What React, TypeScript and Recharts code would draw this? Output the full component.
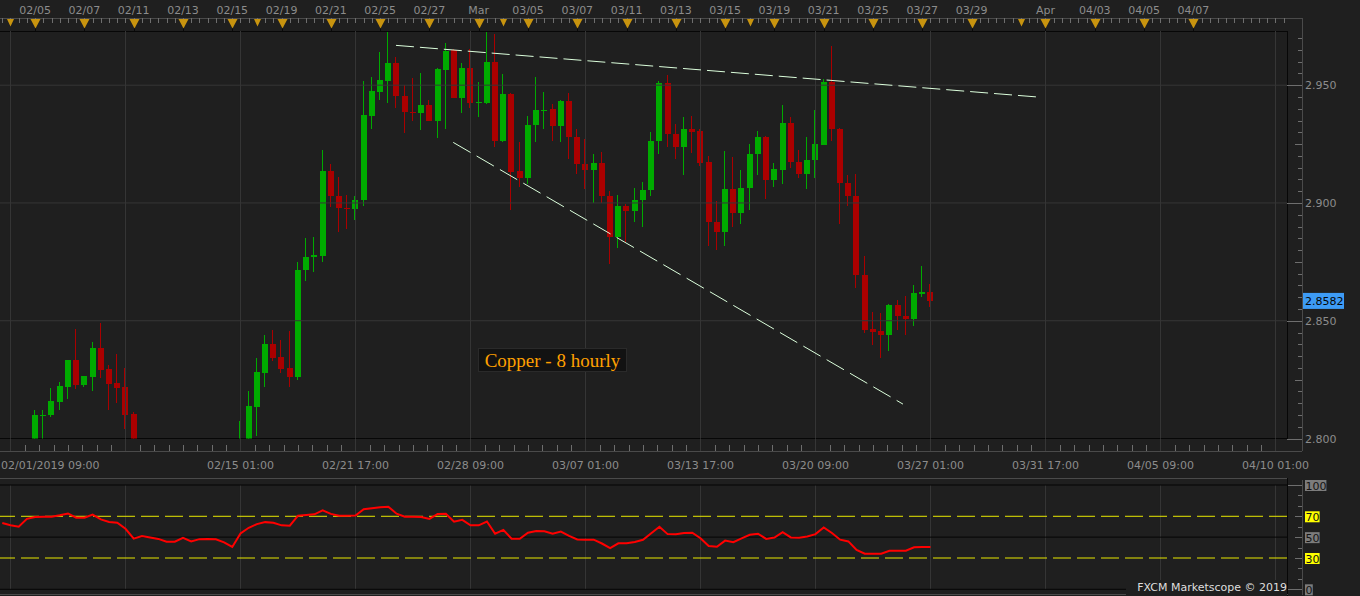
import React from 'react';
import { ComposedChart, LineChart, Bar, Line, XAxis, YAxis, ReferenceLine } from 'recharts';

// 8-hour candles. slot 0 = 02/01/2019 09:00, first array entry is slot -1.
// null = candle sits below the visible price range.
const FIRST_SLOT = -1;

const opens = [
  null, null, null, null,
  2.797, 2.8095, 2.8099, 2.8155, 2.8219, 2.8332, 2.8227, 2.8261, 2.8383, 2.8294, 2.8234, 2.8217, 2.8103,
  null, null, null, null, null, null, null, null, null, null, null, null,
  2.792, 2.797, 2.8134, 2.8278, 2.84, 2.8344, 2.8298, 2.8261, 2.8714, 2.877,
  2.8774, 2.9137, 2.9031, 2.898, 2.8973, 2.9011, 2.9371, 2.9473, 2.9519, 2.9594,
  2.9455, 2.9386, 2.938, 2.9417, 2.935, 2.9566, 2.965, 2.9447, 2.9573, 2.9424,
  2.9426, 2.9599, 2.9261, 2.9463, 2.9134, 2.9104, 2.9329, 2.9391, 2.9397, 2.9325,
  2.9433, 2.928, 2.9167, 2.9142, 2.9171, 2.9031, 2.8854, 2.8989, 2.8964, 2.9011,
  2.9053, 2.9261, 2.951, 2.9294, 2.9236, 2.9315, 2.9306, 2.9175, 2.8921, 2.8875,
  2.9061, 2.8956, 2.9062, 2.9206, 2.9281, 2.9096, 2.9142, 2.934, 2.9175, 2.9125,
  2.9181, 2.9248, 2.9514, 2.9315, 2.9086, 2.9031, 2.8696, 2.8463, 2.8455, 2.8438,
  2.8565, 2.8522, 2.8507, 2.8613, 2.8624,
];

const highs = [
  null, null, null, null,
  2.812, 2.812, 2.8216, 2.8239, 2.8335, 2.8463, 2.8266, 2.8409, 2.8489, 2.8312, 2.8357, 2.8298, 2.8111,
  null, null, null, null, null, null, null, null, null, null, null, null,
  2.8073, 2.82, 2.834, 2.8438, 2.8459, 2.8417, 2.8455, 2.8751, 2.8853, 2.8857,
  2.9226, 2.9167, 2.9111, 2.9035, 2.9031, 2.9518, 2.9535, 2.9641, 2.9727, 2.962,
  2.9501, 2.9532, 2.9552, 2.9438, 2.9573, 2.9679, 2.9653, 2.9594, 2.9654, 2.9514,
  2.9727, 2.9717, 2.9548, 2.9466, 2.9257, 2.9371, 2.9535, 2.9472, 2.9421, 2.9436,
  2.9466, 2.9314, 2.9271, 2.9209, 2.9216, 2.9049, 2.9035, 2.8997, 2.9065, 2.909,
  2.9302, 2.9518, 2.9544, 2.9336, 2.9366, 2.937, 2.9315, 2.92, 2.901, 2.9222,
  2.9196, 2.9141, 2.9251, 2.9306, 2.9285, 2.9171, 2.9417, 2.9366, 2.9226, 2.9281,
  2.9395, 2.9527, 2.9667, 2.9318, 2.912, 2.9124, 2.8773, 2.8539, 2.8531, 2.8573,
  2.859, 2.8603, 2.865, 2.8734, 2.8658,
];

const lows = [
  null, null, null, null,
  2.795, 2.798, 2.8092, 2.8121, 2.8167, 2.8209, 2.8217, 2.8202, 2.8256, 2.8121, 2.8151, 2.8039, 2.794,
  null, null, null, null, null, null, null, null, null, null, null, null,
  2.789, 2.795, 2.8011, 2.8219, 2.8331, 2.8278, 2.8219, 2.8248, 2.8668, 2.8706,
  2.8748, 2.8981, 2.8875, 2.8888, 2.8926, 2.8986, 2.9316, 2.9435, 2.9426, 2.9405,
  2.9295, 2.9346, 2.9308, 2.9346, 2.9274, 2.9316, 2.9444, 2.938, 2.9405, 2.9367,
  2.9418, 2.9236, 2.9258, 2.8969, 2.9066, 2.9079, 2.9257, 2.9316, 2.9265, 2.9257,
  2.9186, 2.9125, 2.9058, 2.8998, 2.9, 2.8742, 2.8808, 2.8833, 2.8918, 2.8897,
  2.9028, 2.9206, 2.9236, 2.9186, 2.9117, 2.9214, 2.9155, 2.8816, 2.8799, 2.8816,
  2.8897, 2.8909, 2.8969, 2.9117, 2.9015, 2.9066, 2.9079, 2.9147, 2.9108, 2.9058,
  2.9108, 2.9245, 2.9265, 2.8909, 2.8986, 2.8638, 2.845, 2.8395, 2.834, 2.837,
  2.846, 2.8439, 2.8477, 2.86, 2.8558,
];

const closes = [
  null, null, null, null,
  2.8099, 2.8101, 2.8158, 2.8222, 2.8332, 2.8227, 2.8264, 2.8383, 2.8291, 2.8231, 2.8214, 2.81, 2.797,
  null, null, null, null, null, null, null, null, null, null, null, null,
  2.798, 2.8137, 2.8281, 2.84, 2.8342, 2.8295, 2.8261, 2.8717, 2.8772, 2.8777,
  2.9137, 2.9028, 2.8977, 2.8973, 2.9014, 2.9374, 2.9476, 2.9522, 2.9594, 2.9452,
  2.9384, 2.938, 2.9417, 2.935, 2.9569, 2.9645, 2.9447, 2.9573, 2.9426, 2.9428,
  2.9599, 2.9261, 2.9463, 2.9131, 2.9104, 2.9333, 2.9395, 2.9395, 2.9325, 2.9433,
  2.9278, 2.9164, 2.9142, 2.9171, 2.9028, 2.8854, 2.8989, 2.8964, 2.9014, 2.9056,
  2.9265, 2.951, 2.9291, 2.9236, 2.9315, 2.9303, 2.9171, 2.8918, 2.8875, 2.9061,
  2.8956, 2.9065, 2.9209, 2.9281, 2.9096, 2.9145, 2.934, 2.9172, 2.9125, 2.9183,
  2.9251, 2.9514, 2.9312, 2.9083, 2.9028, 2.8693, 2.846, 2.8452, 2.8438, 2.8565,
  2.8519, 2.8507, 2.8616, 2.8624, 2.8582,
];

const rsi = [
  63.5, 61.5, 60.0, 67.5, 69.4, 69.6, 69.6, 71.0, 72.7, 68.6,
  68.6, 71.6, 67.0, 64.6, 63.8, 58.0, 48.5, 51.0, 49.6, 48.3,
  45.6, 45.7, 49.3, 45.9, 48.1, 48.2, 48.0, 45.0, 40.6, 53.5,
  59.0, 62.5, 64.4, 63.8, 61.3, 61.0, 70.6, 71.2, 71.9, 75.8,
  72.3, 70.6, 70.6, 70.7, 76.8, 77.8, 78.6, 79.2, 72.5, 69.6,
  69.5, 69.4, 67.5, 72.2, 72.5, 64.8, 66.6, 61.3, 61.3, 65.0,
  53.3, 57.0, 48.5, 48.5, 54.2, 55.9, 55.6, 53.2, 55.3, 51.2,
  47.8, 47.6, 47.6, 43.9, 39.4, 44.1, 44.1, 45.4, 47.5, 53.8,
  60.0, 52.9, 52.7, 54.0, 54.3, 49.0, 41.5, 40.8, 46.7, 45.2,
  48.9, 52.3, 53.3, 48.3, 49.6, 54.7, 49.7, 49.5, 50.7, 52.9,
  59.3, 54.0, 47.6, 45.9, 37.7, 34.1, 34.1, 34.1, 37.0, 37.0,
  37.0, 40.3, 40.6, 40.6,
];

const topLabelSlots = [3, 9, 15, 21, 27, 33, 39, 45, 51, 57, 63, 69, 75, 81, 87, 93, 99, 105, 111, 117, 126, 132, 138, 144];
const topLabels = ['02/05', '02/07', '02/11', '02/13', '02/15', '02/19', '02/21', '02/25', '02/27', 'Mar', '03/05', '03/07',
  '03/11', '03/13', '03/15', '03/19', '03/21', '03/25', '03/27', '03/29', 'Apr', '04/03', '04/05', '04/07'];
const weekMarkSlots = [0, 30, 60, 90, 123];

const bottomLabelSlots = [0, 28, 42, 56, 70, 84, 98, 112, 126, 140, 154];
const bottomLabels = ['02/01/2019 09:00', '02/15 01:00', '02/21 17:00', '02/28 09:00', '03/07 01:00', '03/13 17:00',
  '03/20 09:00', '03/27 01:00', '03/31 17:00', '04/05 09:00', '04/10 01:00'];
const gridSlots = [0, 14, 28, 42, 56, 70, 84, 98, 112, 126, 140, 154];

const priceLabels = [2.8, 2.85, 2.9, 2.95];
const rsiLabels = [0, 30, 50, 70, 100];
const rsiBands = [30, 70];
const rsiSolid = [0, 50, 100];

const upperTrend = [{ x: 46.93, y: 2.9669 }, { x: 124.96, y: 2.945 }];
const lowerTrend = [{ x: 53.9, y: 2.9257 }, { x: 108.65, y: 2.8146 }];

const X_DOMAIN: [number, number] = [-1.278, 155.4];
const P_DOMAIN: [number, number] = [2.8, 2.973];

const BG = '#1f1f1f';
const GRID = '#363636';
const TICK = '#6e6e6e';
const STRIP = '#4a4a4a';
const UP = '#00aa00';
const DOWN = '#aa0000';
const GOLD = '#c8940f';
const TREND = '#dcffdc';
const axisText: React.CSSProperties = { fontFamily: 'DejaVu Sans', fontSize: 11, fill: '#8c8c8c' };

const candles = opens
  .map((o, k) => ({ slot: k + FIRST_SLOT, o, h: highs[k], l: lows[k], c: closes[k] }))
  .filter((d) => d.o != null)
  .map((d) => ({ ...d, range: [d.l, d.h] }));
const rsiData = rsi.map((r, k) => ({ slot: k + FIRST_SLOT, r }));
const lastClose = closes[closes.length - 1] as number;

const topTicks = Array.from({ length: 157 }, (_, k) => k - 1);
const bottomTicks = Array.from({ length: 89 }, (_, k) => k * 1.75);
const priceTicks = [...Array.from({ length: 35 }, (_, k) => Math.round((2.8 + k * 0.005) * 1000) / 1000), lastClose];
const rsiTicks = Array.from({ length: 11 }, (_, k) => k * 10);

const Candle = (props: any) => {
  const { x, y, width, height, payload } = props;
  if (!payload || payload.o == null || !Number.isFinite(y) || !Number.isFinite(height)) return null;
  const { o, h, l, c } = payload;
  const top = Math.min(y, y + height);
  const k = Math.abs(height) / (h - l);
  const py = (v: number) => top + (h - v) * k;
  const color = c >= o ? UP : DOWN;
  const w = Math.round(width);
  const left = Math.round(x + width / 2) - Math.round(w / 2);
  const bTop = Math.round(py(Math.max(o, c)));
  const bBot = Math.round(py(Math.min(o, c)));
  const wTop = Math.round(py(h));
  const wBot = Math.round(py(l));
  return (
    <g>
      <rect x={left + 2} y={wTop} width={1} height={Math.max(1, wBot - wTop)} fill={color} />
      <rect x={left} y={bTop} width={w} height={Math.max(1, bBot - bTop)} fill={color} />
    </g>
  );
};

const TopTick = ({ x, payload }: any) => {
  const v = payload.value;
  const xr = Math.round(x) + 0.5;
  const li = topLabelSlots.indexOf(v);
  const week = weekMarkSlots.includes(v);
  return (
    <g>
      <line x1={xr} x2={xr} y1={18} y2={23} stroke={TICK} />
      {li >= 0 && (
        <g>
          <line x1={xr} x2={xr} y1={27} y2={31} stroke="#0a0a0a" />
          <polygon points={`${xr - 5},19 ${xr + 5},19 ${xr},28.5`} fill={GOLD} />
          <text x={x} y={13.5} textAnchor="middle" style={axisText}>{topLabels[li]}</text>
        </g>
      )}
      {week && li < 0 && <polygon points={`${xr - 3.5},19 ${xr + 3.5},19 ${xr},26.5`} fill={GOLD} />}
    </g>
  );
};

const BottomTick = ({ x, payload }: any) => {
  const v = payload.value;
  const xr = Math.round(x) + 0.5;
  const grid = gridSlots.includes(v);
  const li = bottomLabelSlots.indexOf(v);
  return (
    <g>
      <line x1={xr} x2={xr} y1={grid ? 438.5 : 445} y2={451} stroke={grid ? GRID : TICK} />
      {li >= 0 && (
        <text x={li === 0 ? 1 : x} y={468.5} textAnchor={li === 0 ? 'start' : 'middle'} style={axisText}>
          {bottomLabels[li]}
        </text>
      )}
    </g>
  );
};

const PriceTick = ({ y, payload }: any) => {
  const v = payload.value;
  if (v === lastClose) {
    return (
      <g>
        <rect x={1303} y={y - 8.5} width={41} height={16} fill="#3d9bf5" />
        <text x={1305} y={y + 4} style={{ ...axisText, fill: '#050505' }}>{v.toFixed(4)}</text>
      </g>
    );
  }
  const yr = Math.round(y) + 0.5;
  const label = priceLabels.some((p) => Math.abs(p - v) < 1e-6);
  const mid = !label && Math.abs(Math.round(v * 40) - v * 40) < 1e-6;
  const len = label ? 15 : mid ? 7 : 4;
  return (
    <g>
      <line x1={1302 - len} x2={1302} y1={yr} y2={yr} stroke={TICK} />
      {label && <text x={1305} y={y + 4} style={axisText}>{v.toFixed(3)}</text>}
    </g>
  );
};

const RsiTick = ({ y, payload }: any) => {
  const v = payload.value;
  const yr = Math.round(y) + 0.5;
  const label = rsiLabels.includes(v);
  const len = v === 0 || v === 100 ? 14 : label ? 7 : 4;
  const s = String(v);
  const band = rsiBands.includes(v);
  return (
    <g>
      <line x1={1302 - len} x2={1302} y1={yr} y2={yr} stroke={TICK} />
      {label && (
        <g>
          <rect x={1305} y={y - 5} width={s.length * 6.8 + 1} height={11} fill={band ? '#ffff00' : '#7c7c7c'} />
          <text x={1305.5} y={y + 4.5} style={{ fontFamily: 'DejaVu Sans', fontSize: 11, fill: '#141414' }}>{s}</text>
        </g>
      )}
    </g>
  );
};

const App: React.FC = () => {
  return (
    <div style={{ position: 'absolute', left: 0, top: 0, width: 1360, height: 596, background: BG, overflow: 'hidden' }}>
      <svg width={1360} height={596} style={{ position: 'absolute', left: 0, top: 0 }}>
        <line x1={0} x2={1302} y1={18.5} y2={18.5} stroke={STRIP} />
        <line x1={1302.5} x2={1302.5} y1={18} y2={451} stroke={STRIP} />
        <line x1={0} x2={1302} y1={451.5} y2={451.5} stroke={STRIP} />
        <line x1={0} x2={1288} y1={31.5} y2={31.5} stroke="#070707" />
        <line x1={1287.5} x2={1287.5} y1={31} y2={439} stroke="#070707" />
        <line x1={0} x2={1288} y1={438.5} y2={438.5} stroke="#070707" />
        <line x1={0} x2={1288} y1={478.5} y2={478.5} stroke={STRIP} />
        <line x1={1287.5} x2={1287.5} y1={478} y2={596} stroke="#070707" />
        <line x1={1302.5} x2={1302.5} y1={480} y2={595} stroke={STRIP} />
        <line x1={0} x2={1288} y1={594.5} y2={594.5} stroke={STRIP} />
      </svg>

      <div style={{ position: 'absolute', left: 0, top: 0 }}>
        <ComposedChart width={1360} height={478} data={candles} margin={{ top: 0, right: 0, bottom: 0, left: 0 }}>
          <XAxis dataKey="slot" type="number" domain={X_DOMAIN} allowDataOverflow ticks={bottomTicks} interval={0}
            tick={(p: any) => <BottomTick {...p} />} tickLine={false} axisLine={false} height={39.5} />
          <XAxis xAxisId="top" orientation="top" dataKey="slot" type="number" domain={X_DOMAIN} allowDataOverflow
            ticks={topTicks} interval={0} tick={(p: any) => <TopTick {...p} />} tickLine={false} axisLine={false} height={31} />
          <YAxis orientation="right" type="number" domain={P_DOMAIN} allowDataOverflow ticks={priceTicks} interval={0}
            tick={(p: any) => <PriceTick {...p} />} tickLine={false} axisLine={false} width={73} />
          {gridSlots.map((g) => <ReferenceLine key={'v' + g} x={g} stroke={GRID} />)}
          {priceLabels.slice(1).map((p) => <ReferenceLine key={'h' + p} y={p} stroke={GRID} />)}
          <Bar dataKey="range" barSize={6} shape={(p: any) => <Candle {...p} />} isAnimationActive={false} />
          <ReferenceLine segment={upperTrend} stroke={TREND} strokeDasharray="18 6" />
          <ReferenceLine segment={lowerTrend} stroke={TREND} strokeDasharray="20 7" />
        </ComposedChart>
      </div>

      <div style={{ position: 'absolute', left: 0, top: 478 }}>
        <LineChart width={1360} height={118} data={rsiData} margin={{ top: 7, right: 0, bottom: 6.7, left: 0 }}>
          <XAxis dataKey="slot" type="number" domain={X_DOMAIN} allowDataOverflow hide />
          <YAxis orientation="right" type="number" domain={[0, 100]} ticks={rsiTicks} interval={0}
            tick={(p: any) => <RsiTick {...p} />} tickLine={false} axisLine={false} width={73} />
          {gridSlots.map((g) => <ReferenceLine key={'v' + g} x={g} stroke={GRID} />)}
          {rsiSolid.map((v) => <ReferenceLine key={'s' + v} y={v} stroke="#050505" />)}
          {rsiBands.map((v) => <ReferenceLine key={'b' + v} y={v} stroke="#e8e800" strokeDasharray="18 6" />)}
          <Line dataKey="r" type="linear" stroke="#ff0000" strokeWidth={2} dot={false} isAnimationActive={false} />
        </LineChart>
      </div>

      <div style={{
        position: 'absolute', left: 478, top: 348, width: 149, height: 24, lineHeight: '24px', textAlign: 'center',
        background: '#121212', border: '1px solid #2a2a2a', boxSizing: 'border-box',
        fontFamily: 'Liberation Serif', fontSize: 19, color: '#ffa000',
      }}>
        Copper - 8 hourly
      </div>

      <div style={{
        position: 'absolute', left: 1126, top: 580, width: 161, height: 15, textAlign: 'right',
        fontFamily: 'DejaVu Sans', fontSize: 11, lineHeight: '15px', color: '#dedede', background: BG,
      }}>
        FXCM Marketscope © 2019
      </div>
    </div>
  );
};

export default App;
